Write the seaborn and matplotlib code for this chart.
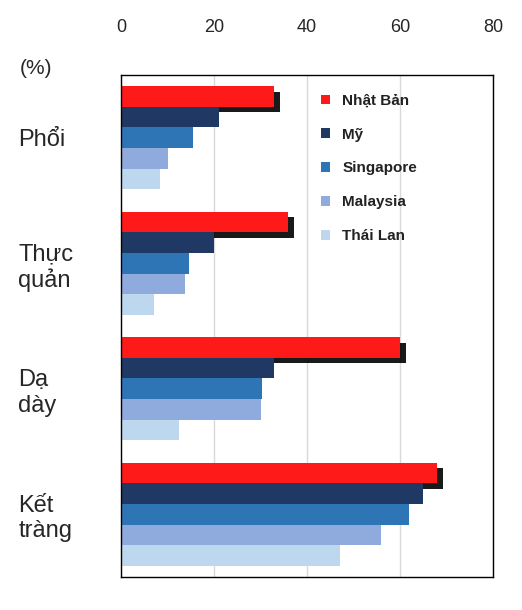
import pandas as pd
import seaborn as sns
import matplotlib.pyplot as plt
import matplotlib.patheffects as pe

categories = ["Phổi", "Thực\nquản", "Dạ\ndày", "Kết\ntràng"]
countries = ["Nhật Bản", "Mỹ", "Singapore", "Malaysia", "Thái Lan"]
japan = [33, 36, 60, 68]
usa = [21, 20, 33, 65]
singapore = [15.5, 14.6, 30.3, 62]
malaysia = [10, 13.8, 30, 56]
thailand = [8.4, 7, 12.5, 47]
colors = ["#ff1a1a", "#1f3864", "#2e75b6", "#8faadc", "#bdd7ee"]

rows = []
for name, vals in zip(countries, [japan, usa, singapore, malaysia, thailand]):
    for c, v in zip(categories, vals):
        rows.append({"cat": c, "country": name, "value": v})
df = pd.DataFrame(rows)

sns.set_style("white")
plt.rcParams['font.family'] = ['Liberation Sans', 'DejaVu Sans']
fig = plt.figure(figsize=(5.22, 6.1), dpi=100)
ax = fig.add_axes([121/522, 1-577/610, 372/522, 502/610])

sns.barplot(data=df, y="cat", x="value", hue="country", palette=colors,
            orient="h", width=0.82, saturation=1, ax=ax, legend=True,
            linewidth=0)

# shadow on the Japan bars
for bar in ax.containers[0]:
    bar.set_path_effects([pe.SimplePatchShadow(offset=(4, -4), shadow_rgbFace="black", alpha=0.9), pe.Normal()])

ax.set_xlim(0, 80)
ax.set_xticks([0, 20, 40, 60, 80])
ax.xaxis.tick_top()
ax.tick_params(axis="x", labelsize=13, length=0, pad=28)
ax.grid(axis="x", color="#d9d9d9", linewidth=1)
ax.set_axisbelow(True)
ax.set_xlabel("")
ax.set_ylabel("")
ax.set_yticks(range(len(categories)))
ax.set_yticklabels(categories, fontsize=17, ha="left")
ax.tick_params(axis="y", length=0, pad=74)
for s in ax.spines.values():
    s.set_color("black")
    s.set_linewidth(1)

fig.text(20/522, 1-68/610, "(%)", fontsize=15, va="center")

leg = ax.legend(loc="upper left", bbox_to_anchor=(0.5, 0.99), frameon=False,
                prop={"weight": "bold", "size": 11}, handlelength=0.6,
                handleheight=0.6, labelspacing=1.3)
for t in leg.get_texts():
    t.set_color("#222222")

fig.savefig("out.png", dpi=100)
